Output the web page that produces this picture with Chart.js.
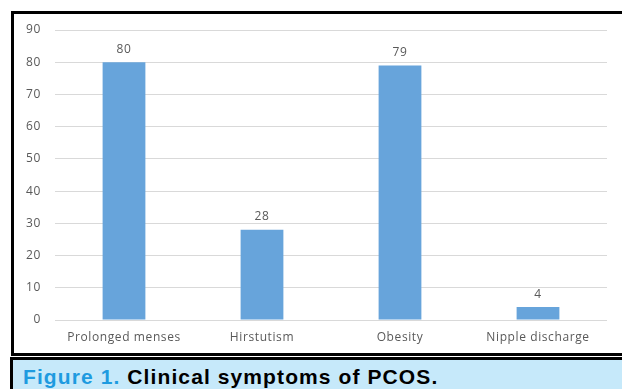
<!DOCTYPE html>
<html>
<head>
<meta charset="utf-8">
<script src="https://cdn.jsdelivr.net/npm/chart.js@4/dist/chart.umd.min.js"></script>
<style>
  html, body { margin:0; padding:0; background:#fff; width:622px; height:389px; overflow:hidden; }
  #frame { position:absolute; left:11px; top:11px; width:640px; height:339px; border:3px solid #000; box-sizing:content-box; }
  #wrap { position:absolute; left:0; top:0; width:622px; height:352px; }
  #caption { position:absolute; left:10px; top:357px; width:640px; height:60px; border:3px solid #000; background:#c6e9fa;
    font-family:"Liberation Sans", Arial, sans-serif; font-weight:bold; font-size:21px; letter-spacing:1.1px; }
  #caption span.txt { position:absolute; left:10px; top:5px; white-space:nowrap; color:#000; }
  #caption .fig { color:#1e9be0; }
</style>
</head>
<body>
<div id="frame"></div>
<div id="wrap"><canvas id="c" width="622" height="352"></canvas></div>
<div id="caption"><span class="txt"><span class="fig">Figure 1.</span> Clinical symptoms of PCOS.</span></div>
<script>
const categories = ["Prolonged menses", "Hirstutism", "Obesity", "Nipple discharge"];
const values = [80, 28, 79, 4];
const yTicks = [0, 10, 20, 30, 40, 50, 60, 70, 80, 90];

const labelFont = { family: "'Open Sans', sans-serif", size: 12 };

const spacing = {
  id: 'spacing',
  beforeDraw(chart) { chart.ctx.letterSpacing = '0.6px'; }
};

const dataLabels = {
  id: 'dataLabels',
  afterDatasetsDraw(chart) {
    const ctx = chart.ctx;
    const meta = chart.getDatasetMeta(0);
    ctx.save();
    ctx.letterSpacing = '0.6px';
    ctx.fillStyle = '#595959';
    ctx.font = "12px 'Open Sans', sans-serif";
    ctx.textAlign = 'center';
    ctx.textBaseline = 'bottom';
    meta.data.forEach((bar, i) => {
      ctx.fillText(String(values[i]), bar.x, bar.y - 7);
    });
    ctx.restore();
  }
};

new Chart(document.getElementById('c'), {
  type: 'bar',
  data: {
    labels: categories,
    datasets: [{
      data: values,
      backgroundColor: '#67a4db',
      borderWidth: 0,
      barPercentage: 0.62,
      categoryPercentage: 0.5
    }]
  },
  options: {
    responsive: false,
    animation: false,
    devicePixelRatio: 1,
    layout: { padding: { left: 0, right: 15, top: 30, bottom: 0 } },
    plugins: { legend: { display: false }, tooltip: { enabled: false } },
    scales: {
      x: {
        grid: { display: false, drawTicks: false },
        border: { display: false },
        ticks: { color: '#595959', font: labelFont, padding: 10, maxRotation: 0 },
        afterFit(s) { s.height = 32; }
      },
      y: {
        min: 0, max: 90,
        afterBuildTicks(s) { s.ticks = yTicks.map(v => ({ value: v })); },
        grid: { color: '#d9d9d9', lineWidth: 1, drawTicks: false },
        border: { display: false },
        ticks: { color: '#595959', font: labelFont, padding: 14 },
        afterFit(s) { s.width = 55; }
      }
    }
  },
  plugins: [spacing, dataLabels]
});
</script>
</body>
</html>
